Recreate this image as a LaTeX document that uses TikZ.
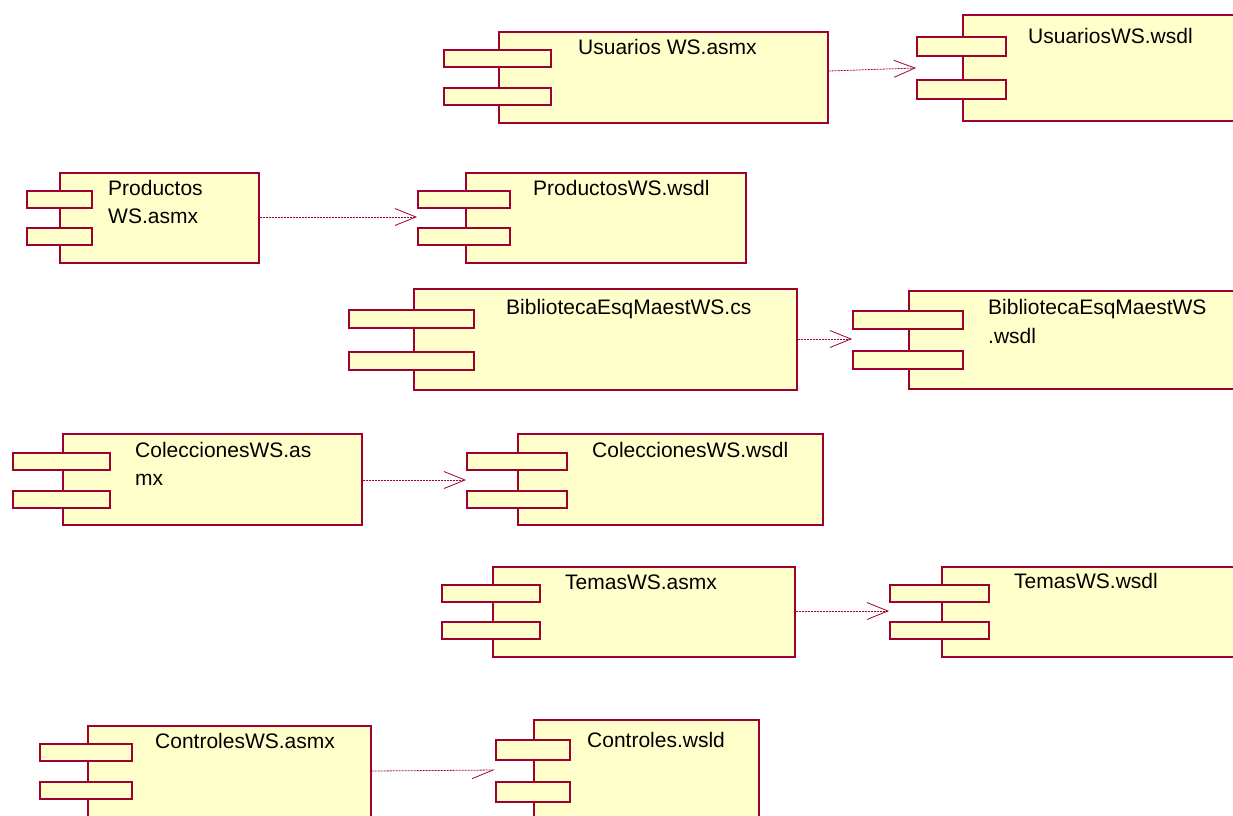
\documentclass[tikz,border=0pt]{standalone}
\usepackage{fontspec}
\setmainfont{Liberation Sans}
\usetikzlibrary{arrows.meta}
\definecolor{rose}{RGB}{160,0,48}
\definecolor{paper}{RGB}{255,255,204}

% component: name, x, y, width, height, tab x, tab width, tab 1 y, tab 2 y
\newcommand\tabh{18}
\newcommand\umlcomp[9]{%
  \node[body, minimum width=#4pt, minimum height=#5pt] (#1) at (#2,#3) {};
  \node[body, minimum width=#7pt, minimum height=\tabh pt] (#1a) at (#6,#8) {};
  \node[body, minimum width=#7pt, minimum height=\tabh pt] (#1b) at (#6,#9) {};
}

\begin{document}
\begin{tikzpicture}[x=1pt,y=-1pt,
  comp extra/.style={},
  body/.style={draw=rose, fill=paper, line width=1.6pt, inner sep=0pt,
               anchor=north west, comp extra},
  lbl/.style={anchor=base west, inner sep=0pt, font=\fontsize{21}{25}\selectfont},
  dep/.style={draw=rose, line width=0.8pt, dash pattern=on 2pt off 1pt,
              -{Straight Barb[length=21pt,width=17pt]}},
  half/.style={-{Straight Barb[length=21pt,width=17pt,harpoon,swap]}},
]
\fill[white] (0,0) rectangle (1233,815);
\clip (0,0) rectangle (1233,815);

% components
\renewcommand\tabh{17}
\umlcomp{u1}{498}{31}{329}{91}{443}{107}{49}{87}
\renewcommand\tabh{19}
\umlcomp{u2}{962}{14}{300}{106}{916}{89}{36}{79}
\renewcommand\tabh{17}
\umlcomp{p1}{59}{172}{199}{90}{26}{65}{190}{227}
\umlcomp{p2}{465}{172}{280}{90}{417}{92}{190}{227}
\renewcommand\tabh{18}
\begin{scope}[comp extra/.style={line width=2.4pt}]
\umlcomp{b1}{413}{288}{383}{101}{348}{125}{309}{351}
\end{scope}
\umlcomp{b2}{908}{290}{340}{98}{852}{110}{310}{350}
\renewcommand\tabh{17}
\umlcomp{c1}{62}{433}{299}{91}{12}{97}{452}{490}
\umlcomp{c2}{517}{433}{305}{91}{466}{100}{452}{490}
\umlcomp{t1}{492}{566}{302}{90}{441}{98}{584}{621}
\umlcomp{t2}{941}{566}{300}{90}{889}{99}{584}{621}
\umlcomp{k1}{87}{725}{283}{100}{39}{92}{743}{781}
\renewcommand\tabh{20}
\umlcomp{k2}{533}{719}{225}{110}{495}{74}{739}{781}

% names
\node[lbl] (u1l) at (578,54) {Usuarios WS.asmx};
\node[lbl] (u2l) at (1028,43) {UsuariosWS.wsdl};
\node[lbl] (p1l) at (108,195) {Productos};
\node[lbl] (p1m) at (108,223) {WS.asmx};
\node[lbl] (p2l) at (533,195) {ProductosWS.wsdl};
\node[lbl] (b1l) at (506,314) {BibliotecaEsqMaestWS.cs};
\node[lbl] (b2l) at (988,314) {BibliotecaEsqMaestWS};
\node[lbl] (b2m) at (988,343) {.wsdl};
\node[lbl] (c1l) at (135,457) {ColeccionesWS.as};
\node[lbl] (c1m) at (135,485) {mx};
\node[lbl] (c2l) at (592,457) {ColeccionesWS.wsdl};
\node[lbl] (t1l) at (565,589) {TemasWS.asmx};
\node[lbl] (t2l) at (1014,588) {TemasWS.wsdl};
\node[lbl] (k1l) at (155,748) {ControlesWS.asmx};
\node[lbl] (k2l) at (587,747) {Controles.wsld};

% dependencies
\draw[dep] (u1.east |- 0,71) -- (u2a.west |- 0,68);
\draw[dep] (p1.east |- 0,217) -- (p2a.west |- 0,217);
\draw[dep] (b1.east |- 0,339) -- (b2a.west |- 0,339);
\draw[dep] (c1.east |- 0,480) -- (c2a.west |- 0,480);
\draw[dep] (t1.east |- 0,611) -- (t2a.west |- 0,611);
\draw[dep, half] (k1.east |- 0,771) -- (k2a.west |- 0,770);
\end{tikzpicture}
\end{document}
